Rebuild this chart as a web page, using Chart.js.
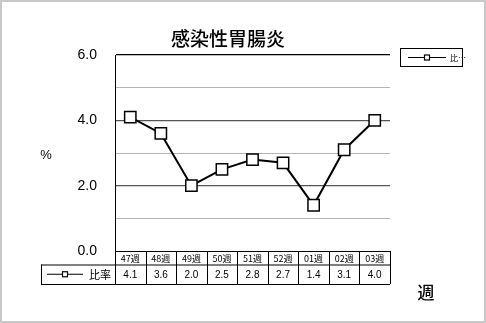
<!DOCTYPE html>
<html>
<head>
<meta charset="utf-8">
<script src="https://cdn.jsdelivr.net/npm/chart.js@4.4.1/dist/chart.umd.min.js"></script>
<style>
  html, body { margin: 0; padding: 0; background: #fff; }
  #wrap { width: 486px; height: 323px; position: relative; }
</style>
</head>
<body>
<div id="wrap"><canvas id="chart" width="486" height="323"></canvas></div>
<script>
const weeks = ['47週', '48週', '49週', '50週', '51週', '52週', '01週', '02週', '03週'];
const ratio = [4.1, 3.6, 2.0, 2.5, 2.8, 2.7, 1.4, 3.1, 4.0];
const seriesName = '比率';
const chartTitle = '感染性胃腸炎';
const yTitle = '%';
const xTitle = '週';

const numFont = '"Liberation Sans", Arial, "Noto Sans CJK JP", sans-serif';
const jpFont = '"Noto Sans CJK JP", "Liberation Sans", sans-serif';

// small legend-style line with a square marker
function drawKey(ctx, x1, x2, y) {
  ctx.save();
  ctx.strokeStyle = '#000';
  ctx.lineWidth = 1.2;
  ctx.beginPath();
  ctx.moveTo(x1, y);
  ctx.lineTo(x2, y);
  ctx.stroke();
  const mx = (x1 + x2) / 2;
  ctx.fillStyle = '#fff';
  ctx.fillRect(mx - 2.5, y - 2.5, 5, 5);
  ctx.strokeRect(mx - 2.5, y - 2.5, 5, 5);
  ctx.restore();
}

const extras = {
  id: 'extras',
  beforeDraw(chart) {
    const ctx = chart.ctx;
    ctx.save();
    ctx.fillStyle = '#fff';
    ctx.fillRect(0, 0, chart.width, chart.height);
    ctx.strokeStyle = '#c8c8c8';
    ctx.lineWidth = 2;
    ctx.strokeRect(1, 1, chart.width - 2, chart.height - 2);
    ctx.restore();
  },
  afterDraw(chart) {
    const ctx = chart.ctx;
    const x = chart.scales.x;
    const area = chart.chartArea;
    const colW = (area.right - area.left) / weeks.length;

    ctx.save();
    // title and axis captions
    ctx.fillStyle = '#000';
    ctx.textAlign = 'center';
    ctx.textBaseline = 'middle';
    ctx.font = '500 19px ' + jpFont;
    ctx.fillText(chartTitle, 228, 39);
    ctx.font = '13px ' + numFont;
    ctx.fillText(yTitle, 46, 155);
    ctx.font = '500 17px ' + jpFont;
    ctx.fillText(xTitle, 426, 293);

    // data table under the plot
    const top = area.bottom;
    const mid = top + 13.5;
    const bot = top + 33;
    const tableLeft = 41;
    ctx.strokeStyle = '#000';
    ctx.lineWidth = 1;
    ctx.beginPath();
    ctx.moveTo(area.left, top + 0.5); ctx.lineTo(area.right, top + 0.5);
    ctx.moveTo(tableLeft, mid + 0.5); ctx.lineTo(area.right, mid + 0.5);
    ctx.moveTo(tableLeft, bot + 0.5); ctx.lineTo(area.right, bot + 0.5);
    ctx.moveTo(tableLeft + 0.5, mid); ctx.lineTo(tableLeft + 0.5, bot);
    for (let i = 0; i <= weeks.length; i++) {
      const lx = Math.round(area.left + i * colW) + 0.5;
      ctx.moveTo(lx, top); ctx.lineTo(lx, bot);
    }
    ctx.stroke();

    weeks.forEach((w, i) => {
      const cx = x.getPixelForValue(i);
      ctx.font = '9px ' + jpFont;
      ctx.fillText(w, cx, (top + mid) / 2 + 1);
      ctx.font = '10px ' + numFont;
      ctx.fillText(ratio[i].toFixed(1), cx, (mid + bot) / 2 + 1);
    });
    drawKey(ctx, 47, 83, (mid + bot) / 2);
    ctx.font = '11px ' + jpFont;
    ctx.textAlign = 'left';
    ctx.fillText(seriesName, 89, (mid + bot) / 2 + 1);

    // legend box at the right
    ctx.lineWidth = 1;
    ctx.strokeRect(400.5, 48.5, 62, 18);
    drawKey(ctx, 408, 446, 57.5);
    ctx.font = '8px ' + jpFont;
    ctx.fillText('比…', 450, 58);
    ctx.restore();
  }
};

new Chart(document.getElementById('chart'), {
  type: 'line',
  data: {
    labels: weeks,
    datasets: [{
      label: seriesName,
      data: ratio,
      borderColor: '#000',
      borderWidth: 2,
      pointStyle: 'rect',
      pointRadius: 8,
      pointBorderWidth: 1.5,
      pointBackgroundColor: '#fff',
      pointBorderColor: '#000',
      tension: 0
    }]
  },
  options: {
    responsive: false,
    animation: false,
    layout: { padding: { left: 0, right: 96, top: 55, bottom: 72 } },
    plugins: {
      legend: { display: false },
      title: { display: false },
      tooltip: { enabled: false }
    },
    scales: {
      x: {
        display: false,
        offset: true
      },
      y: {
        min: 0,
        max: 6,
        afterFit: s => { s.width = 115; },
        border: { display: true, color: '#000', width: 1 },
        grid: {
          drawTicks: false,
          color: c => {
            const v = c.tick.value;
            if (v === 6) return '#000';
            if (v === 0) return 'rgba(0,0,0,0)';
            return v % 2 === 0 ? '#555' : '#b4b4b4';
          },
          lineWidth: c => (c.tick.value % 2 === 0 ? 1.2 : 1)
        },
        ticks: {
          stepSize: 1,
          padding: 18,
          color: '#000',
          font: { family: numFont, size: 14 },
          callback: v => (v % 2 === 0 ? v.toFixed(1) : '')
        }
      }
    }
  },
  plugins: [extras]
});
</script>
</body>
</html>
